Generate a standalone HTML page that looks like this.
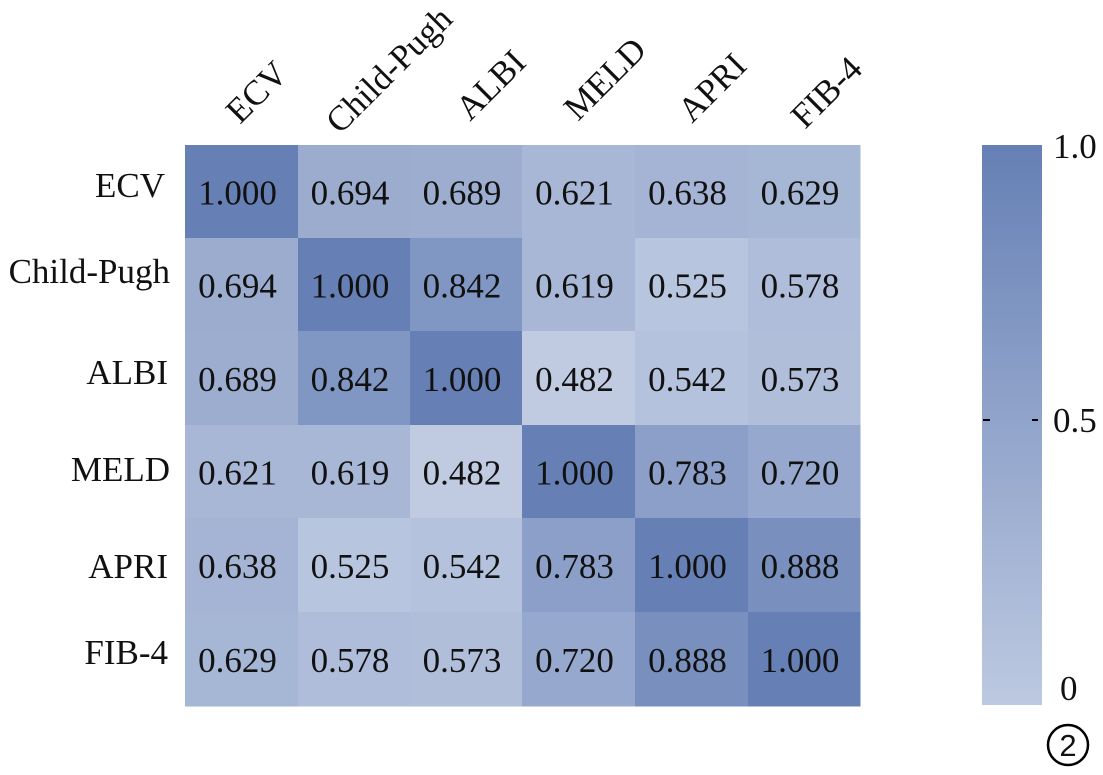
<!DOCTYPE html>
<html><head><style>
body{margin:0;width:1103px;height:770px;background:#fff;overflow:hidden;font-family:"Liberation Serif",serif;}
</style></head><body>
<svg width="1103" height="770" xmlns="http://www.w3.org/2000/svg">
<defs><linearGradient id="g" x1="0" y1="0" x2="0" y2="1">
<stop offset="0" stop-color="#6680b5"/><stop offset="1" stop-color="#bdc9e1"/></linearGradient></defs>
<g id="cells"></g>
<g font-family="Liberation Serif, serif" font-size="35" fill="#111">
<text x="240" y="125" transform="rotate(-45 240 125)" text-anchor="start">ECV</text>
<text x="340" y="135" transform="rotate(-45 340 135)">Child-Pugh</text>
<text x="470" y="122" transform="rotate(-45 470 122)">ALBI</text>
<text x="578" y="122" transform="rotate(-45 578 122)">MELD</text>
<text x="692" y="124" transform="rotate(-45 692 124)">APRI</text>
<text x="805" y="130" transform="rotate(-45 805 130)">FIB-4</text>
<g text-anchor="end">
<text x="165" y="197">ECV</text>
<text x="170" y="283">Child-Pugh</text>
<text x="168" y="384">ALBI</text>
<text x="170" y="481">MELD</text>
<text x="168" y="578">APRI</text>
<text x="168" y="664">FIB-4</text>
</g>
<rect x="982" y="145" width="60" height="560" fill="url(#g)"/>
<line x1="983" y1="420" x2="990" y2="420" stroke="#000" stroke-width="2"/>
<line x1="1032" y1="420" x2="1038" y2="420" stroke="#000" stroke-width="2"/>
<text x="1053" y="158">1.0</text>
<text x="1053" y="432">0.5</text>
<text x="1060" y="700">0</text>
<circle cx="1068" cy="745" r="20" fill="none" stroke="#000" stroke-width="2.5"/>
<text x="1068" y="756" text-anchor="middle" font-family="Liberation Sans, sans-serif" font-size="31">2</text>
</g>
<g id="txt" font-family="Liberation Serif, serif" font-size="35" fill="#111" text-anchor="middle"></g>
</svg>
<script>
var M=[[1,.694,.689,.621,.638,.629],[.694,1,.842,.619,.525,.578],[.689,.842,1,.482,.542,.573],[.621,.619,.482,1,.783,.720],[.638,.525,.542,.783,1,.888],[.629,.578,.573,.720,.888,1]];
var xs=[185,298,410,522,635,748,860],ys=[145,238,331,425,518,612,706];
var c=document.getElementById('cells'),t=document.getElementById('txt'),ns="http://www.w3.org/2000/svg";
function col(v){var f=(1-v)/(1-0.48);f=Math.max(0,Math.min(1,f));
var a=[102,128,181],b=[192,203,226];return 'rgb('+a.map((x,i)=>Math.round(x+(b[i]-x)*f)).join(',')+')';}
for(var i=0;i<6;i++)for(var j=0;j<6;j++){
var r=document.createElementNS(ns,'rect');r.setAttribute('x',xs[j]);r.setAttribute('y',ys[i]);
r.setAttribute('width',xs[j+1]-xs[j]+0.5);r.setAttribute('height',ys[i+1]-ys[i]+0.5);r.setAttribute('fill',col(M[i][j]));c.appendChild(r);
var s=document.createElementNS(ns,'text');s.setAttribute('x',(xs[j]+xs[j+1])/2-4);s.setAttribute('y',(ys[i]+ys[i+1])/2+13);
s.textContent=M[i][j].toFixed(3);t.appendChild(s);}
</script>
</body></html>
